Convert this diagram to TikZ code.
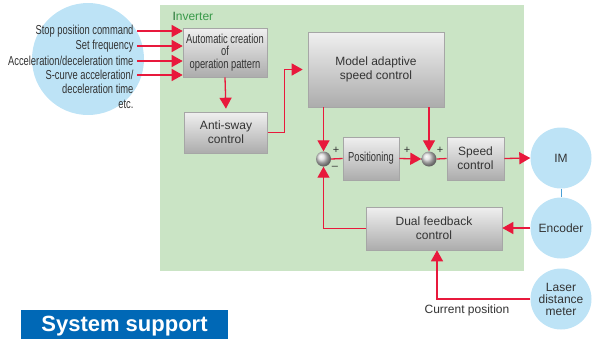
\documentclass[tikz,border=0pt]{standalone}
\usepackage{fontspec}
\setmainfont{Liberation Sans}
\newfontfamily\narrowfont{Liberation Sans}[FakeStretch=0.72]
\usetikzlibrary{positioning, arrows.meta, shadings}
\definecolor{invgreen}{HTML}{CAE4C5}
\definecolor{invtext}{HTML}{3A9A4A}
\definecolor{invdark}{HTML}{1F6E2E}
\definecolor{devblue}{HTML}{BDE3F6}
\definecolor{linkblue}{HTML}{4A9FD5}
\definecolor{sigred}{HTML}{E8193C}
\definecolor{sysblue}{HTML}{0068B6}
\definecolor{txt}{HTML}{333333}
\tikzstyle{arrow} = [draw=sigred, line width=1.3pt, -{Triangle[length=11pt, width=12pt]}]
\tikzstyle{redline} = [draw=sigred, line width=1.3pt]

\begin{document}
\begin{tikzpicture}[x=1pt, y=-1pt,
  block/.style={draw=gray!70, line width=0.6pt, top color=gray!12, bottom color=gray!65, align=center, inner sep=2pt, text=txt},
  sumj/.style={circle, minimum size=15pt, inner sep=0pt, shading=ball, ball color=gray!30},
  dev/.style={circle, fill=devblue, minimum size=61pt, inner sep=0pt, align=center, text=txt},
  lbl/.style={anchor=east, text=txt, font=\narrowfont\fontsize{13}{14}\selectfont},
  sign/.style={inner sep=0pt, text=txt, font=\fontsize{11}{11}\selectfont},
  font=\fontsize{12}{14}\selectfont
]
\clip (0,0) rectangle (605,338);

% inverter area
\fill[invgreen] (160,5) rectangle (524,271);
\node[anchor=west, text=invtext] (invlbl) at (169,16) {{\color{invdark}I}nverter};

% inputs
\node[circle, fill=devblue, minimum size=112pt] (inputs) at (88,59) {};
\node[lbl] (cmd1) at (137,31) {Stop position command};
\node[lbl] (cmd2) at (137,46) {Set frequency};
\node[lbl] (cmd3) at (137,61) {Acceleration/deceleration time};
\node[lbl] (cmd4) at (137,75) {S-curve acceleration/};
\node[lbl] (cmd5) at (137,89) {deceleration time};
\node[lbl] (cmd6) at (137,104) {etc.};

% blocks
\node[block, minimum width=84pt, minimum height=49pt, font=\narrowfont\fontsize{13}{12.5}\selectfont] (auto) at (225,52.5) {Automatic creation\\of\\operation pattern};
\node[block, minimum width=83pt, minimum height=41pt] (antisway) at (226,132.5) {Anti-sway\\control};
\node[block, minimum width=136pt, minimum height=75pt] (model) at (376,69.5) {Model adaptive\\speed control};
\node[block, minimum width=56pt, minimum height=43pt, font=\narrowfont\fontsize{13}{14}\selectfont] (pos) at (371,158.5) {Positioning};
\node[block, minimum width=57pt, minimum height=43pt] (speed) at (475.5,158.5) {Speed\\control};
\node[block, minimum width=136pt, minimum height=43pt] (dual) at (434,228.5) {Dual feedback\\control};

\node[sumj] (sum1) at (323.5,159) {};
\node[sumj] (sum2) at (429,159) {};

\node[sign] (p1) at (336,150) {+};
\node[sign] (m1) at (335,168) {–};
\node[sign] (p2) at (407,150) {+};
\node[sign] (p3) at (440,150) {+};

% devices
\node[dev] (im) at (561,158) {IM};
\node[dev] (enc) at (561,228) {Encoder};
\node[dev, font=\fontsize{12}{12}\selectfont] (laser) at (561,299) {Laser\\distance\\meter};
\node[text=txt] (curpos) at (467,310) {Current position};

% connections
\draw[arrow] (cmd1.east) -- (cmd1.east -| auto.west);
\draw[arrow] (cmd2.east) -- (cmd2.east -| auto.west);
\draw[arrow] (cmd3.east) -- (cmd3.east -| auto.west);
\draw[arrow] (cmd4.east) -- (cmd4.east -| auto.west);
\draw[arrow, shorten >=3pt] (auto.south) -- (antisway.north);
\draw[arrow, shorten >=5pt] (antisway.east) -- ++(17,0) |- (model.west);
\draw[arrow] (sum1 |- model.south) -- (sum1.north);
\draw[arrow] (sum2 |- model.south) -- (sum2.north);
\draw[redline] (sum1.east) -- (pos.west);
\draw[arrow] (pos.east) -- (sum2.west);
\draw[redline] (sum2.east) -- (speed.west);
\draw[arrow] (speed.east) -- (im.west);
\draw[linkblue, line width=1pt] (im.south) -- (enc.north);
\draw[arrow] (enc.west) -- (enc.west -| dual.east);
\draw[arrow] (laser.west) -| ([xshift=3pt]dual.south);
\draw[arrow] (dual.west) -| (sum1.south);

% heading
\fill[sysblue] (21,310) rectangle (228,345);
\node[anchor=base, inner sep=0pt, text=white, font=\bfseries\fontsize{22}{22}\selectfont] (sys) at (124.5,331.5) {System support};
\end{tikzpicture}
\end{document}
